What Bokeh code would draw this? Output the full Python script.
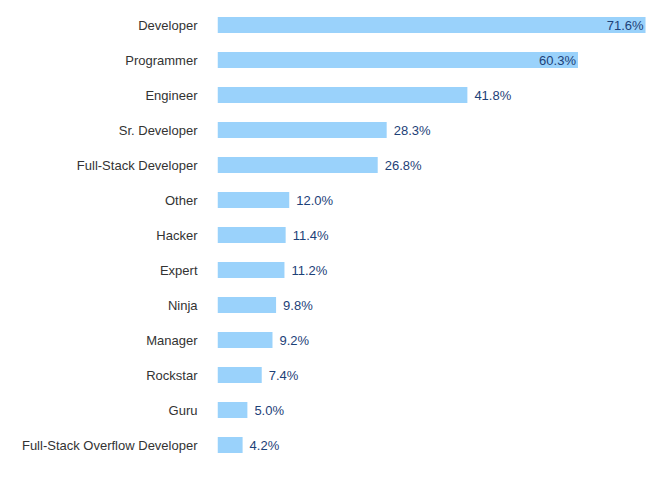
from bokeh.plotting import figure
from bokeh.models import ColumnDataSource, FactorRange, Range1d
from bokeh.embed import file_html
from bokeh.resources import INLINE
from bokeh.core.properties import value

categories = ["Developer", "Programmer", "Engineer", "Sr. Developer", "Full-Stack Developer",
              "Other", "Hacker", "Expert", "Ninja", "Manager", "Rockstar", "Guru",
              "Full-Stack Overflow Developer"]
values = [71.6, 60.3, 41.8, 28.3, 26.8, 12.0, 11.4, 11.2, 9.8, 9.2, 7.4, 5.0, 4.2]

labels = [f"{v:.1f}%" for v in values]
inside = [v > 50 for v in values]
src_in = ColumnDataSource(dict(
    y=[c for c, i in zip(categories, inside) if i],
    x=[v for v, i in zip(values, inside) if i],
    t=[l for l, i in zip(labels, inside) if i]))
src_out = ColumnDataSource(dict(
    y=[c for c, i in zip(categories, inside) if not i],
    x=[v for v, i in zip(values, inside) if not i],
    t=[l for l, i in zip(labels, inside) if not i]))
src = ColumnDataSource(dict(y=categories, x=values))

yr = FactorRange(factors=list(reversed(categories)))
p = figure(y_range=yr, x_range=Range1d(0, 73.1),
           frame_width=437, frame_height=455,
           output_backend="svg", toolbar_location=None,
           min_border_left=217, min_border_right=0, min_border_top=7, min_border_bottom=0)
p.hbar(y="y", right="x", left=0, height=0.46, source=src, color="#9ad2fb", line_color=None)
p.text(x="x", y="y", text="t", source=src_in, text_align="right", text_baseline="middle",
       x_offset=-2, text_font=value("Liberation Sans"), text_font_size="13px", text_color="#1d4178")
p.text(x="x", y="y", text="t", source=src_out, text_align="left", text_baseline="middle",
       x_offset=7, text_font=value("Liberation Sans"), text_font_size="13px", text_color="#1d4178")

p.xaxis.visible = False
p.yaxis.axis_line_color = None
p.yaxis.major_tick_line_color = None
p.yaxis.minor_tick_line_color = None
p.yaxis.major_tick_in = 0
p.yaxis.major_tick_out = 0
p.yaxis.major_label_standoff = 20
p.yaxis.major_label_text_font = "Liberation Sans"
p.yaxis.major_label_text_font_size = "13px"
p.yaxis.major_label_text_color = "#333333"
p.xgrid.visible = False
p.ygrid.visible = False
p.outline_line_color = None

open("out.html", "w").write(file_html(p, INLINE))
